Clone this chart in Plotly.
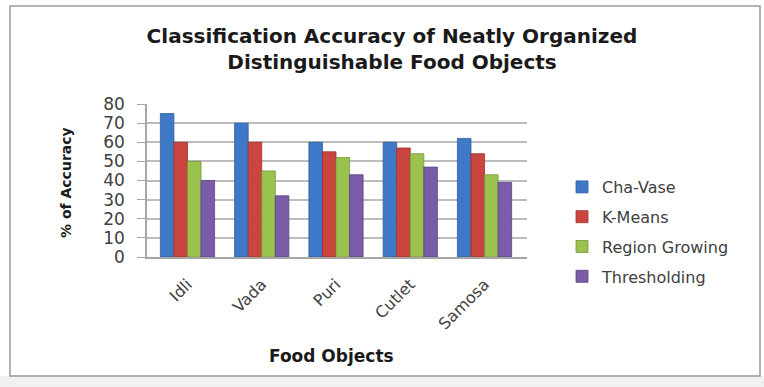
import plotly.graph_objects as go

# Food categories and accuracy (%) per segmentation method
categories = ["Idli", "Vada", "Puri", "Cutlet", "Samosa"]
cha_vase = [75, 70, 60, 60, 62]
k_means = [60, 60, 55, 57, 54]
region_growing = [50, 45, 52, 54, 43]
thresholding = [40, 32, 43, 47, 39]

series_names = ["Cha-Vase", "K-Means", "Region Growing", "Thresholding"]
y_ticks = [0, 10, 20, 30, 40, 50, 60, 70, 80]

colors = ["#3F78C6", "#CB4540", "#9BC24F", "#7A5DA6"]
edges = ["#2E5E9E", "#9E302C", "#76963A", "#5B437F"]

W, H = 764, 387
L, R, T, B = 147, 527, 104, 257  # plot-area pixel box


def px_x(x):
    return (x - L) / (R - L)


def px_y(y):
    return (B - y) / (B - T)


FONT = "DejaVu Sans"

fig = go.Figure()
for name, vals, c, e in zip(series_names,
                            [cha_vase, k_means, region_growing, thresholding],
                            colors, edges):
    fig.add_trace(go.Bar(
        name=name, x=categories, y=vals,
        marker=dict(color=c, line=dict(color=e, width=0.8)),
        legendgroup=name,
    ))

fig.update_layout(
    width=W, height=H,
    margin=dict(l=L, r=W - R, t=T, b=H - B, pad=0),
    paper_bgcolor="white",
    plot_bgcolor="white",
    barmode="group",
    bargap=0.27,
    bargroupgap=0,
    font=dict(family=FONT, color="#404040"),
    showlegend=True,
    legend=dict(
        x=px_x(562), y=px_y(170), xanchor="left", yanchor="top",
        font=dict(family=FONT, size=16, color="#404040"),
        tracegroupgap=6,
        bgcolor="rgba(0,0,0,0)",
    ),
    xaxis=dict(
        range=[-0.545, 4.572],
        showgrid=False,
        showline=True, linecolor="#a6a6a6", linewidth=1.5,
        ticks="", tickangle=-45,
        tickfont=dict(family=FONT, size=16, color="#404040"),
        ticklabelstandoff=10,
        fixedrange=True,
    ),
    yaxis=dict(
        range=[0, 80],
        tickvals=y_ticks,
        showgrid=True, gridcolor="#bdbdbd", gridwidth=1.5,
        showline=True, linecolor="#a6a6a6", linewidth=1.5,
        ticks="outside", ticklen=8, tickcolor="#a6a6a6",
        tickfont=dict(family=FONT, size=17, color="#404040"),
        ticklabelstandoff=9,
        zeroline=False,
        fixedrange=True,
    ),
    title=dict(
        text="Classification Accuracy of Neatly Organized<br>Distinguishable Food Objects",
        x=392 / W, xanchor="center",
        y=1 - 43 / H, yanchor="top",
        font=dict(family=FONT, size=20, color="#1a1a1a", weight="bold"),
    ),
)

# Axis titles
fig.add_annotation(
    text="% of Accuracy", textangle=-90, showarrow=False,
    xref="paper", yref="paper", x=px_x(66), y=px_y(183),
    xanchor="center", yanchor="middle",
    font=dict(family=FONT, size=14, color="#1a1a1a", weight="bold"),
)
fig.add_annotation(
    text="Food Objects", showarrow=False,
    xref="paper", yref="paper", x=px_x(331), y=px_y(356),
    xanchor="center", yanchor="middle",
    font=dict(family=FONT, size=17, color="#1a1a1a", weight="bold"),
)

# Chart frame and the grey strip beneath it
fig.add_shape(type="rect", xref="paper", yref="paper", layer="below",
              x0=px_x(0), x1=px_x(W), y0=px_y(H), y1=px_y(376),
              fillcolor="#f1f1f1", line=dict(width=0))
fig.add_shape(type="rect", xref="paper", yref="paper", layer="below",
              x0=px_x(10), x1=px_x(760), y0=px_y(376), y1=px_y(6),
              fillcolor="rgba(0,0,0,0)", line=dict(color="#9a9a9a", width=1.5))

fig.write_html("out.html")
